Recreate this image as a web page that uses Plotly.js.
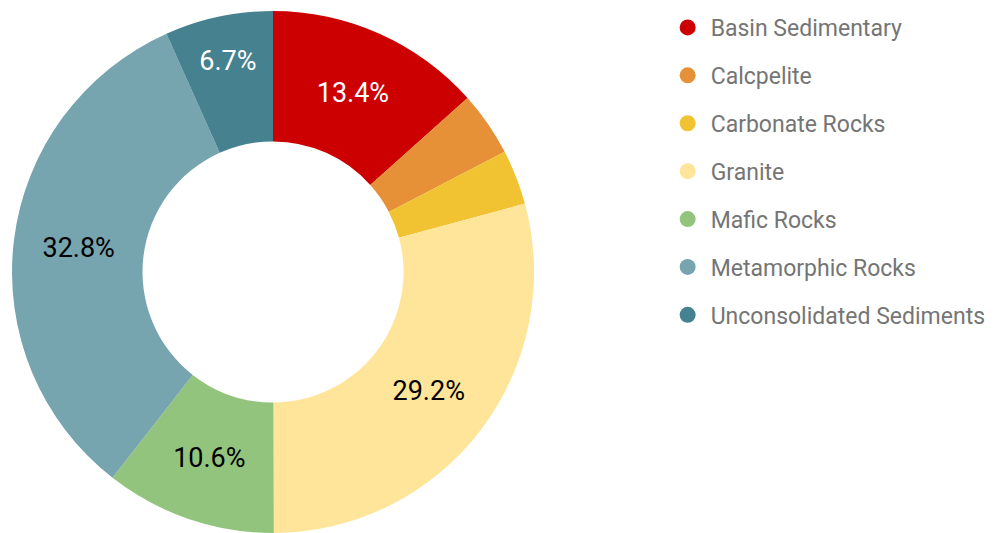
<!DOCTYPE html>
<html>
<head>
<meta charset="utf-8">
<script src="https://cdn.plot.ly/plotly-3.0.1.min.js"></script>
<style>
  html, body { margin: 0; padding: 0; background: #fff; }
  #chart { width: 995px; height: 533px; }
</style>
</head>
<body>
<div id="chart"></div>
<script>
// rock types and their share of the total (percent)
const rockTypes = ['Basin Sedimentary', 'Calcpelite', 'Carbonate Rocks', 'Granite',
    'Mafic Rocks', 'Metamorphic Rocks', 'Unconsolidated Sediments'];
const rockShare = [13.4, 4.0, 3.4, 29.2, 10.6, 32.8, 6.7];
const sliceColors = ['#cc0000', '#e69138', '#f1c232', '#ffe599', '#93c47d', '#76a5af', '#45818e'];
const labelColors = ['#ffffff', '#000000', '#000000', '#000000', '#000000', '#000000', '#ffffff'];
// slices too thin to carry a label
const showLabel = [true, false, false, true, true, true, true];

const pie = {
    type: 'pie',
    labels: rockTypes,
    values: rockShare,
    sort: false,
    direction: 'clockwise',
    rotation: 0,
    hole: 0.5,
    marker: { colors: sliceColors, line: { width: 0 } },
    texttemplate: showLabel.map(s => s ? '%{percent:.1%}' : ''),
    textposition: 'inside',
    insidetextorientation: 'horizontal',
    insidetextfont: { family: 'Roboto', size: 27, color: labelColors },
    domain: { x: [11 / 995, 535 / 995], y: [0, 1 - 11 / 533] },
    showlegend: false,
    hoverinfo: 'label+percent'
};

// dummy traces so the legend gets round markers
const legendTraces = rockTypes.map((name, i) => ({
    type: 'scatter',
    mode: 'markers',
    x: [null],
    y: [null],
    name: name,
    legendgroup: 'g' + i,
    marker: { color: sliceColors[i], size: 16, symbol: 'circle' },
    hoverinfo: 'skip'
}));

const layout = {
    width: 995,
    height: 533,
    margin: { l: 0, r: 0, t: 0, b: 0 },
    paper_bgcolor: '#ffffff',
    plot_bgcolor: '#ffffff',
    xaxis: { visible: false },
    yaxis: { visible: false },
    showlegend: true,
    legend: {
        x: 0.668,
        y: 1 - 6 / 533,
        xanchor: 'left',
        yanchor: 'top',
        font: { family: 'Roboto', size: 23, color: '#757575' },
        tracegroupgap: 15,
        traceorder: 'grouped',
        itemwidth: 36,
        itemclick: false,
        itemdoubleclick: false
    }
};

Plotly.newPlot('chart', [pie].concat(legendTraces), layout, { displayModeBar: false, staticPlot: true });
</script>
</body>
</html>
